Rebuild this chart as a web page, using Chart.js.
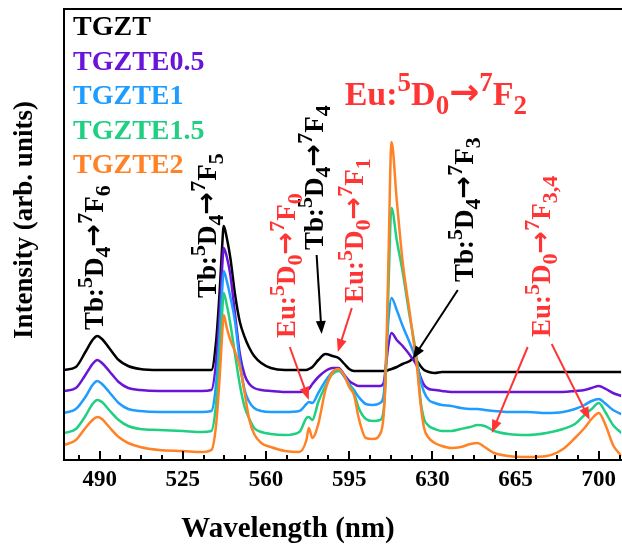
<!DOCTYPE html>
<html lang="en">
<head>
<meta charset="UTF-8">
<title>Emission spectra</title>
<script src="https://cdn.jsdelivr.net/npm/chart.js@4"></script>
<style>
    html, body { margin: 0; padding: 0; background: #fff; }
</style>
</head>
<body>
<canvas id="spectra" width="622" height="546"></canvas>

<script>
// wavelength grid (nm), shared by all five spectra
const wavelength = [475,480,484,487,489,491,494,498,502,507,515,525,533,537,539,540.5,541.5,542.2,543.5,545,
    547,549,551,553,555,558,562,568,574,577,578,579.5,582,585,588,590.5,593,595,597,599,
    602,605,608,609.5,610.5,611.5,612.8,615,617.5,620.5,622,623.5,625,626.5,628.5,631,634,638,642,646,
    649,652,656,662,670,678,685,690,694,697,700,703,706,709.5];

// intensities (arb. units, stacked with offsets as in the figure)
const tgzt = [90,93,108,120,124,121,112,100,94,91, 90,90,90,90,119,169,212,234,222,202,
    165,138,123,112,104,97,92,90,90,90, 91,93,100,106,104,102,96,91,89,89,
    89,89,89,89,89,90,91,93,96,99, 102,99,94,90,88,87,88,88,88,88,
    88,88,88,88,88,88,88,88,88,88, 88,88,88,88];
const tgzte05 = [69,72,85,96,100,97,89,78,72,70, 69,69,69,70,98,148,191,212,203,185,
    145,106,85,76,72,70,69,68,68,69, 71,76,83,89,92,92,85,79,76,74,
    74,74,74,77,95,115,127,120,114,105, 100,94,83,75,71,70,69,68,68,68,
    68,68,68,68,68,68,68,69,70,72, 74,71,67,64];
const tgzte1 = [47,51,63,75,79,76,68,57,51,49, 48,48,48,49,76,126,168,189,179,163,
    138,98,70,58,52,49,48,48,49,56, 58,57,67,79,88,90,83,76,70,63,
    56,55,57,65,100,140,162,150,134,117, 108,97,80,68,60,57,55,54,52,51,
    51,50,49,48,48,47,48,51,55,59, 61,56,50,46];
const tgzte15 = [27,31,44,56,60,58,50,40,34,31, 30,29,28,29,56,104,146,167,155,136,
    105,75,53,41,32,28,26,25,28,42, 43,40,58,74,86,89,84,75,67,52,
    41,39,40,50,90,170,252,220,188,143, 123,100,60,41,34,31,29,29,31,33,
    35,34,29,26,25,27,31,36,45,51, 57,47,35,27];
const tgzte2 = [15,20,32,40,43,41,33,23,17,13, 10,9,8,10,35,83,124,145,132,120,
    108,93,67,40,26,17,13,9,8,20, 32,22,36,70,88,91,84,73,65,42,
    22,21,26,45,97,200,318,260,198,147, 120,94,57,32,22,17,14,12,13,16,
    17,13,7,4,3,4,11,22,32,41, 47,34,15,4];

const seriesNames = ['TGZT', 'TGZTE0.5', 'TGZTE1', 'TGZTE1.5', 'TGZTE2'];
const seriesValues = [tgzt, tgzte05, tgzte1, tgzte15, tgzte2];
const seriesColors = ['#000000', '#6a14d8', '#1f9cff', '#1fcf82', '#ff8226'];

const xTicks = [490, 525, 560, 595, 630, 665, 700];
const xRange = [475, 709.5];
const yRange = [0, 451];

// transition labels: position in data units (wavelength, intensity)
const transitions = [
    { text: 'Tb:^5D_4→^7F_6', at: [491.3, 130], color: '#000', vertical: true },
    { text: 'Tb:^5D_4→^7F_5', at: [538.8, 162], color: '#000', vertical: true },
    { text: 'Tb:^5D_4→^7F_4', at: [583.9, 210], color: '#000', vertical: true },
    { text: 'Eu:^5D_0→^7F_0', at: [572.1, 122], color: '#ff3535', vertical: true },
    { text: 'Eu:^5D_0→^7F_1', at: [600.7, 157], color: '#ff3535', vertical: true },
    { text: 'Eu:^5D_0→^7F_2', at: [593.1, 355], color: '#ff3535', vertical: false },
    { text: 'Tb:^5D_4→^7F_3', at: [647.0, 178], color: '#000', vertical: true },
    { text: 'Eu:^5D_0→^7F_{3,4}', at: [679.4, 123], color: '#ff3535', vertical: true }
];
const pointers = [
    { from: [581.3, 205], to: [583.4, 126], color: '#000' },
    { from: [570.0, 113], to: [578.0, 60], color: '#ff3535' },
    { from: [596.1, 152], to: [590.2, 108], color: '#ff3535' },
    { from: [640.7, 170], to: [621.7, 101], color: '#000' },
    { from: [670.1, 113], to: [655.0, 27], color: '#ff3535' },
    { from: [680.2, 116], to: [696.2, 40], color: '#ff3535' }
];

const FONT = "'Liberation Serif', 'Times New Roman', serif";
const ARROW_FONT = "'DejaVu Sans', sans-serif";

function parseRich(str) {
    const out = [];
    let buf = '';
    let i = 0;
    const flush = () => { if (buf) { out.push({ t: buf, m: '' }); buf = ''; } };
    while (i < str.length) {
        const c = str[i];
        if (c === '^' || c === '_') {
            flush();
            let t;
            if (str[i + 1] === '{') {
                const j = str.indexOf('}', i);
                t = str.slice(i + 2, j);
                i = j + 1;
            } else {
                t = str[i + 1];
                i += 2;
            }
            out.push({ t: t, m: c });
        } else if (c === '→') {
            flush();
            out.push({ t: c, m: 'arrow' });
            i++;
        } else {
            buf += c;
            i++;
        }
    }
    flush();
    return out;
}

function drawRich(ctx, str, x, y, color, vertical) {
    // vertical labels are a bit smaller than the horizontal one at the top
    const big = vertical ? 27 : 34;
    const small = vertical ? 22 : 27;
    const arrow = vertical ? 27 : 36;
    ctx.save();
    ctx.translate(x, y);
    if (vertical) ctx.rotate(-Math.PI / 2);
    ctx.fillStyle = color;
    ctx.textAlign = 'left';
    ctx.textBaseline = 'alphabetic';
    let cx = 0;
    parseRich(str).forEach(s => {
        let dy = 0;
        if (s.m === 'arrow') {
            ctx.font = 'bold ' + arrow + 'px ' + ARROW_FONT;
            dy = -Math.round(big * 0.03);
        } else if (s.m) {
            ctx.font = 'bold ' + small + 'px ' + FONT;
            dy = s.m === '^' ? -Math.round(big * 0.4) : Math.round(big * 0.26);
        } else {
            ctx.font = 'bold ' + big + 'px ' + FONT;
        }
        ctx.fillText(s.t, cx, dy);
        cx += ctx.measureText(s.t).width;
    });
    ctx.restore();
}

function drawArrow(ctx, x1, y1, x2, y2, color) {
    const a = Math.atan2(y2 - y1, x2 - x1);
    const head = 13, half = 5;
    ctx.save();
    ctx.strokeStyle = color;
    ctx.fillStyle = color;
    ctx.lineWidth = 2;
    ctx.beginPath();
    ctx.moveTo(x1, y1);
    ctx.lineTo(x2 - head * 0.8 * Math.cos(a), y2 - head * 0.8 * Math.sin(a));
    ctx.stroke();
    ctx.beginPath();
    ctx.moveTo(x2, y2);
    ctx.lineTo(x2 - head * Math.cos(a) + half * Math.sin(a), y2 - head * Math.sin(a) - half * Math.cos(a));
    ctx.lineTo(x2 - head * Math.cos(a) - half * Math.sin(a), y2 - head * Math.sin(a) + half * Math.cos(a));
    ctx.closePath();
    ctx.fill();
    ctx.restore();
}

const decorations = {
    id: 'decorations',
    beforeDraw(chart) {
        const ctx = chart.ctx;
        ctx.save();
        ctx.fillStyle = '#fff';
        ctx.fillRect(0, 0, chart.width, chart.height);
        ctx.restore();
    },
    afterDraw(chart) {
        const ctx = chart.ctx;
        const area = chart.chartArea;
        const xs = chart.scales.x, ys = chart.scales.y;

        // frame (left, top, bottom)
        ctx.save();
        ctx.strokeStyle = '#000';
        ctx.lineWidth = 2;
        ctx.beginPath();
        ctx.moveTo(area.right + 2, area.top);
        ctx.lineTo(area.left, area.top);
        ctx.lineTo(area.left, area.bottom);
        ctx.lineTo(area.right + 2, area.bottom);
        ctx.stroke();

        // inward ticks on the wavelength axis
        const step = (xTicks[1] - xTicks[0]) / 4;
        let start = xTicks[0];
        while (start - step >= xRange[0]) start -= step;
        for (let v = start; v <= xRange[1] + 1e-6; v += step) {
            const px = Math.round(xs.getPixelForValue(v));
            const major = xTicks.some(t => Math.abs(t - v) < 1e-6);
            ctx.beginPath();
            ctx.moveTo(px, area.bottom);
            ctx.lineTo(px, area.bottom - (major ? 9 : 5));
            ctx.stroke();
        }
        ctx.restore();

        // legend
        ctx.save();
        ctx.font = 'bold 28px ' + FONT;
        ctx.textAlign = 'left';
        ctx.textBaseline = 'alphabetic';
        seriesNames.forEach((name, i) => {
            ctx.fillStyle = seriesColors[i];
            ctx.fillText(name, area.left + 9, area.top + 26 + i * 34.5);
        });
        ctx.restore();

        // axis titles
        ctx.save();
        ctx.fillStyle = '#000';
        ctx.font = 'bold 29px ' + FONT;
        ctx.textAlign = 'center';
        ctx.textBaseline = 'alphabetic';
        ctx.fillText('Wavelength (nm)', 288, 537);
        ctx.translate(32, 220);
        ctx.rotate(-Math.PI / 2);
        ctx.font = 'bold 27px ' + FONT;
        ctx.fillText('Intensity (arb. units)', 0, 0);
        ctx.restore();

        // transition labels and pointers
        transitions.forEach(t => {
            drawRich(ctx, t.text, xs.getPixelForValue(t.at[0]), ys.getPixelForValue(t.at[1]), t.color, t.vertical);
        });
        pointers.forEach(p => {
            drawArrow(ctx,
                xs.getPixelForValue(p.from[0]), ys.getPixelForValue(p.from[1]),
                xs.getPixelForValue(p.to[0]), ys.getPixelForValue(p.to[1]), p.color);
        });
    }
};

const datasets = seriesNames.map((name, i) => ({
    label: name,
    data: wavelength.map((w, k) => ({ x: w, y: seriesValues[i][k] })),
    borderColor: seriesColors[i],
    borderWidth: 2.5,
    pointRadius: 0,
    fill: false,
    cubicInterpolationMode: 'monotone',
    order: seriesNames.length - 1 - i
}));

new Chart(document.getElementById('spectra').getContext('2d'), {
    type: 'line',
    data: { datasets: datasets },
    options: {
        responsive: false,
        animation: false,
        devicePixelRatio: 1,
        layout: { padding: { top: 9, right: 0, left: 0, bottom: 0 } },
        plugins: {
            legend: { display: false },
            tooltip: { enabled: false }
        },
        scales: {
            x: {
                type: 'linear',
                min: xRange[0],
                max: xRange[1],
                afterBuildTicks: s => { s.ticks = xTicks.map(v => ({ value: v })); },
                afterFit: s => { s.height = 86; },
                grid: { display: false, drawTicks: false },
                border: { display: false },
                ticks: {
                    color: '#000',
                    padding: 6,
                    maxRotation: 0,
                    font: { family: FONT, weight: 'bold', size: 23 }
                }
            },
            y: {
                min: yRange[0],
                max: yRange[1],
                afterFit: s => { s.width = 64; },
                grid: { display: false, drawTicks: false },
                border: { display: false },
                ticks: { display: false }
            }
        }
    },
    plugins: [decorations]
});
</script>
</body>
</html>
